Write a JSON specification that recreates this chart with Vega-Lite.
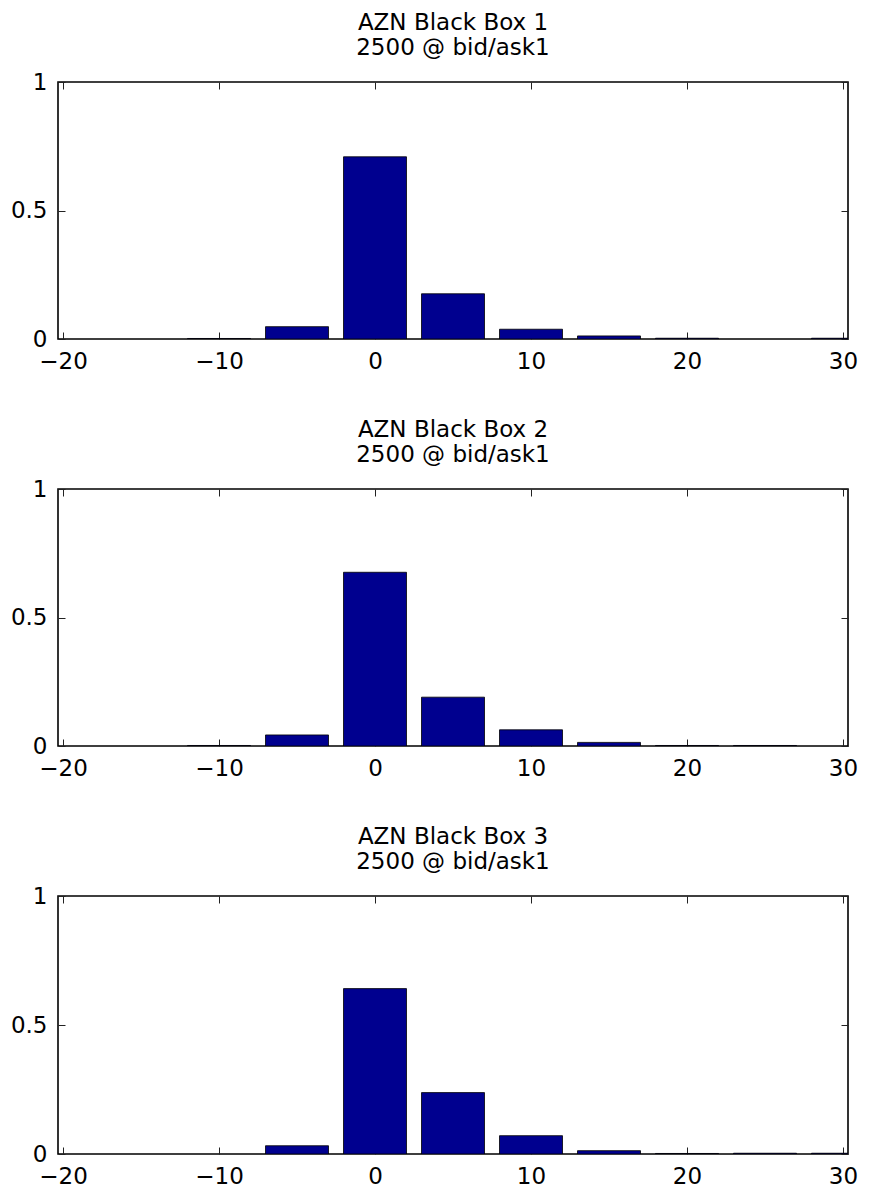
{
  "$schema": "https://vega.github.io/schema/vega-lite/v6.json",
  "background": "white",
  "padding": {"left": 9, "top": 11, "right": 5, "bottom": 5},
  "data": {"values": [
    {"box": 1, "x": -10, "p": 0.002},
    {"box": 1, "x": -5, "p": 0.048},
    {"box": 1, "x": 0, "p": 0.709},
    {"box": 1, "x": 5, "p": 0.176},
    {"box": 1, "x": 10, "p": 0.038},
    {"box": 1, "x": 15, "p": 0.012},
    {"box": 1, "x": 20, "p": 0.003},
    {"box": 1, "x": 30, "p": 0.003},
    {"box": 2, "x": -10, "p": 0.002},
    {"box": 2, "x": -5, "p": 0.043},
    {"box": 2, "x": 0, "p": 0.676},
    {"box": 2, "x": 5, "p": 0.19},
    {"box": 2, "x": 10, "p": 0.063},
    {"box": 2, "x": 15, "p": 0.014},
    {"box": 2, "x": 20, "p": 0.002},
    {"box": 2, "x": 25, "p": 0.002},
    {"box": 3, "x": -5, "p": 0.032},
    {"box": 3, "x": 0, "p": 0.641},
    {"box": 3, "x": 5, "p": 0.238},
    {"box": 3, "x": 10, "p": 0.071},
    {"box": 3, "x": 15, "p": 0.013},
    {"box": 3, "x": 20, "p": 0.002},
    {"box": 3, "x": 25, "p": 0.003},
    {"box": 3, "x": 30, "p": 0.003}
  ]},
  "config": {
    "font": "DejaVu Sans",
    "view": {"stroke": "black", "strokeWidth": 1.6},
    "axis": {"grid": false, "domain": false, "ticks": true, "tickSize": -7, "tickColor": "#222", "tickWidth": 1, "labelFont": "DejaVu Sans", "labelFontSize": 23, "labelColor": "black", "labelPadding": 18, "labelFlush": false, "title": null},
    "title": {"fontSize": 23, "fontWeight": "normal", "color": "black", "font": "DejaVu Sans", "lineHeight": 25, "offset": 11}
  },
  "spacing": 44,
  "vconcat": [
    {
      "title": {"text": ["AZN Black Box 1", "2500 @ bid/ask1"]},
      "width": 790, "height": 257,
      "transform": [{"filter": "datum.box == 1"}],
      "layer": [
        {"mark": {"type": "bar", "size": 63, "fill": "#00008F", "stroke": "black", "strokeWidth": 0.8, "clip": true},
         "encoding": {
           "x": {"field": "x", "type": "quantitative", "scale": {"domain": [-20, 30], "nice": false, "zero": false}, "axis": {"orient": "bottom", "values": [-20, -10, 0, 10, 20, 30]}},
           "y": {"field": "p", "type": "quantitative", "scale": {"domain": [0, 1], "nice": false}, "axis": {"orient": "left", "values": [0, 0.5, 1], "format": "~g"}}
         }},
        {"mark": {"type": "point", "opacity": 0},
         "encoding": {
           "x": {"field": "x", "type": "quantitative", "axis": {"orient": "top", "values": [-20, -10, 0, 10, 20, 30], "labels": false}},
           "y": {"field": "p", "type": "quantitative", "axis": {"orient": "right", "values": [0, 0.5, 1], "labels": false}}
         }}
      ],
      "resolve": {"axis": {"x": "independent", "y": "independent"}}
    },
    {
      "title": {"text": ["AZN Black Box 2", "2500 @ bid/ask1"]},
      "width": 790, "height": 257,
      "transform": [{"filter": "datum.box == 2"}],
      "layer": [
        {"mark": {"type": "bar", "size": 63, "fill": "#00008F", "stroke": "black", "strokeWidth": 0.8, "clip": true},
         "encoding": {
           "x": {"field": "x", "type": "quantitative", "scale": {"domain": [-20, 30], "nice": false, "zero": false}, "axis": {"orient": "bottom", "values": [-20, -10, 0, 10, 20, 30]}},
           "y": {"field": "p", "type": "quantitative", "scale": {"domain": [0, 1], "nice": false}, "axis": {"orient": "left", "values": [0, 0.5, 1], "format": "~g"}}
         }},
        {"mark": {"type": "point", "opacity": 0},
         "encoding": {
           "x": {"field": "x", "type": "quantitative", "axis": {"orient": "top", "values": [-20, -10, 0, 10, 20, 30], "labels": false}},
           "y": {"field": "p", "type": "quantitative", "axis": {"orient": "right", "values": [0, 0.5, 1], "labels": false}}
         }}
      ],
      "resolve": {"axis": {"x": "independent", "y": "independent"}}
    },
    {
      "title": {"text": ["AZN Black Box 3", "2500 @ bid/ask1"]},
      "width": 790, "height": 258,
      "transform": [{"filter": "datum.box == 3"}],
      "layer": [
        {"mark": {"type": "bar", "size": 63, "fill": "#00008F", "stroke": "black", "strokeWidth": 0.8, "clip": true},
         "encoding": {
           "x": {"field": "x", "type": "quantitative", "scale": {"domain": [-20, 30], "nice": false, "zero": false}, "axis": {"orient": "bottom", "values": [-20, -10, 0, 10, 20, 30]}},
           "y": {"field": "p", "type": "quantitative", "scale": {"domain": [0, 1], "nice": false}, "axis": {"orient": "left", "values": [0, 0.5, 1], "format": "~g"}}
         }},
        {"mark": {"type": "point", "opacity": 0},
         "encoding": {
           "x": {"field": "x", "type": "quantitative", "axis": {"orient": "top", "values": [-20, -10, 0, 10, 20, 30], "labels": false}},
           "y": {"field": "p", "type": "quantitative", "axis": {"orient": "right", "values": [0, 0.5, 1], "labels": false}}
         }}
      ],
      "resolve": {"axis": {"x": "independent", "y": "independent"}}
    }
  ]
}
